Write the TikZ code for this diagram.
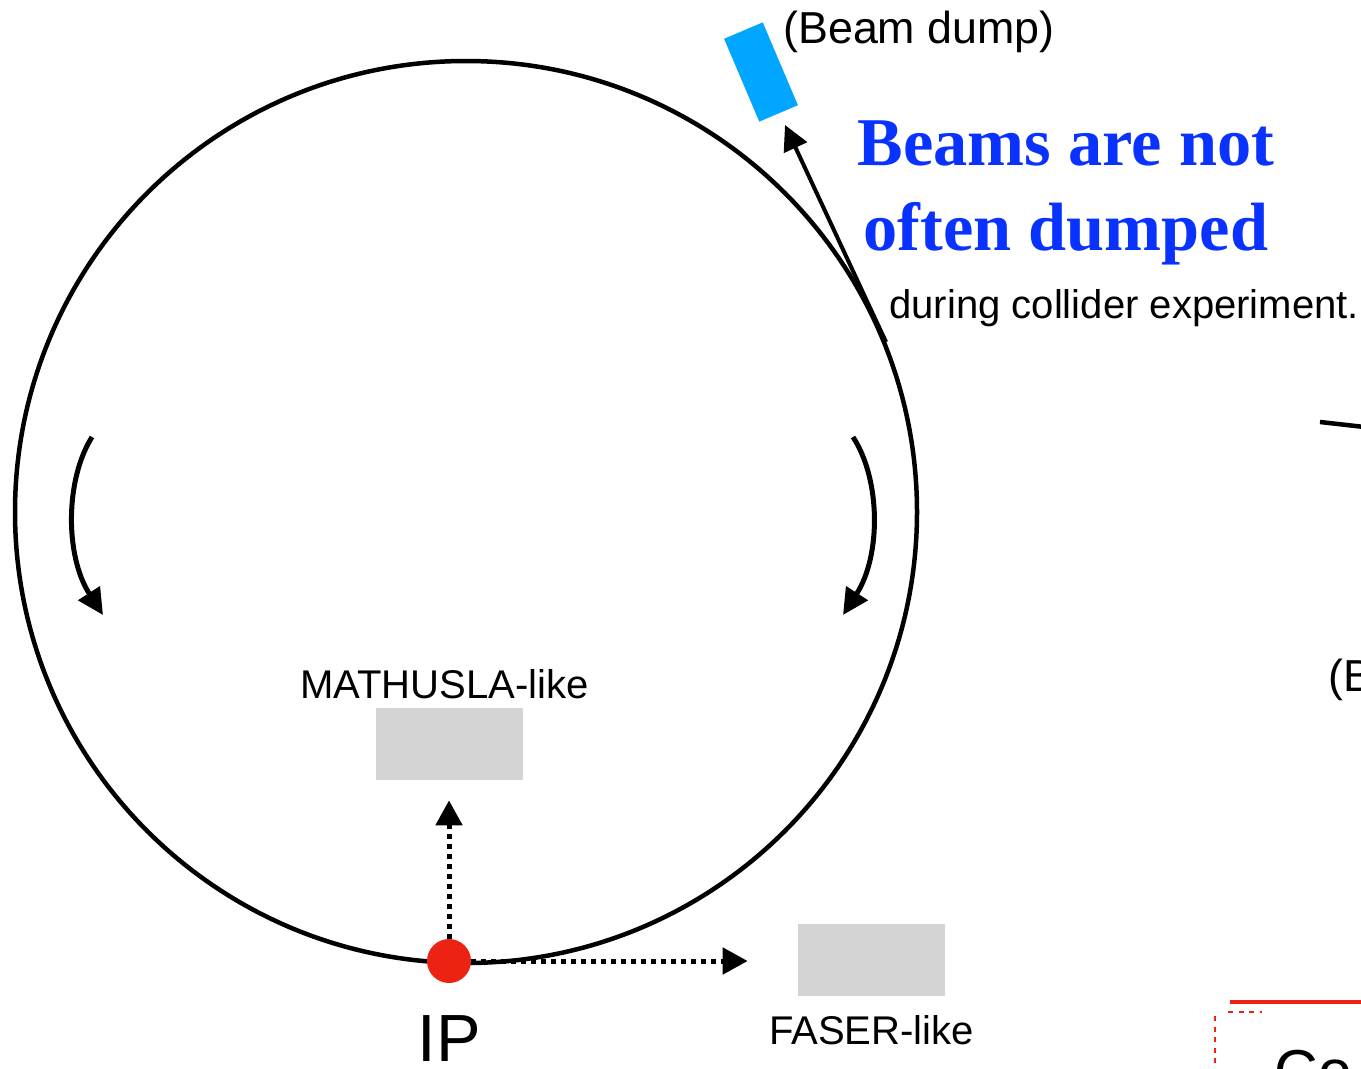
\documentclass[tikz,border=0pt]{standalone}
\usepackage{fontspec}
\setmainfont{Liberation Sans}
\newfontfamily\timesbf{Liberation Serif}
\usepackage{xcolor}
\usetikzlibrary{arrows.meta,positioning}
\definecolor{dumpblue}{RGB}{0,166,255}
\definecolor{headblue}{RGB}{10,50,255}
\definecolor{ipred}{RGB}{236,34,18}
\definecolor{boxgray}{RGB}{212,212,212}
\tikzset{
  ring/.style={line width=0.09cm},
  flow/.style={line width=0.1cm,-{Triangle[length=0.52cm,width=0.5cm]}},
  kick/.style={line width=0.08cm,-{Triangle[length=0.5cm,width=0.5cm]}},
  probe/.style={line width=0.1cm,dash pattern=on 0.1cm off 0.1cm,-{Triangle[length=0.5cm,width=0.52cm]}},
  detbox/.style={fill=boxgray,minimum width=2.94cm,minimum height=1.44cm,inner sep=0},
  dumpbox/.style={fill=dumpblue,minimum width=0.84cm,minimum height=1.8cm,inner sep=0},
  ipdot/.style={circle,fill=ipred,minimum size=0.88cm,inner sep=0},
  lbl/.style={inner sep=0,font=\fontsize{22.8}{26}\selectfont},
  lblbig/.style={inner sep=0,font=\fontsize{25.5}{30}\selectfont},
  iplbl/.style={inner sep=0,font=\fontsize{38}{44}\selectfont},
  headline/.style={inner sep=0,text=headblue,font=\timesbf\bfseries\fontsize{38.9}{47}\selectfont},
  sketch/.style={draw=ipred,line width=0.08cm}
}

\begin{document}
\begin{tikzpicture}[x=0.02cm,y=-0.02cm]
\clip (0,0) rectangle (1361,1068);
% collider ring and beam directions
\draw[ring] (466,512) circle [radius=451];
\draw[flow] (92,437) .. controls (65,480) and (65,556) .. (103,615);
\draw[flow] (853,437) .. controls (881,480) and (881,556) .. (843,615);
% extraction to the dump
\node[dumpbox,rotate=23] (dump) at (761,72) {};
\node[lblbig,anchor=base west] (dumplbl) at (783,44) {(Beam dump)};
\coordinate (kickout) at (886,342);
\coordinate (dumpin) at (785,125);
\draw[kick] (kickout) -- (dumpin);
\node[headline,anchor=base] (beams) at (1066,165) {Beams are not};
\node[headline,anchor=base] (dumped) at (1066,250) {often dumped};
\node[lbl,anchor=base west] (during) at (889,318) {during collider experiment.};
% detectors around the IP
\node[detbox] (mathusla) at (449.5,744) {};
\node[lbl,above=0.16cm of mathusla,xshift=-0.1cm] (mathlbl) {MATHUSLA-like};
\node[detbox] (faser) at (871.5,960) {};
\node[lbl,below=0.38cm of faser] (faserlbl) {FASER-like};
\node[ipdot] (ip) at (449,961) {};
\node[iplbl,below=0.64cm of ip] (iplbl) {IP};
\draw[probe,shorten >=0.4cm] (ip.north) -- (ip.north |- mathusla.south);
\draw[probe,shorten >=1cm] (ip.east) -- (ip.east -| faser.west);
% edge of the next panel
\coordinate (nexta) at (1320,422);
\coordinate (nextb) at (1400,431);
\draw[ring] (nexta) -- (nextb);
\node[lblbig,anchor=base west] (nextlbl) at (1328,691) {(B};
\draw[sketch] (1230,1002) -- (1400,1002);
\draw[sketch,line width=0.04cm,dashed] (1228,1012) -- (1262,1012);
\draw[sketch,line width=0.04cm,dashed] (1215,1016) -- (1215,1080);
\node[anchor=base west,inner sep=0,font=\fontsize{34.5}{40}\selectfont] (nexttitle) at (1274,1092) {Co};
\end{tikzpicture}
\end{document}
